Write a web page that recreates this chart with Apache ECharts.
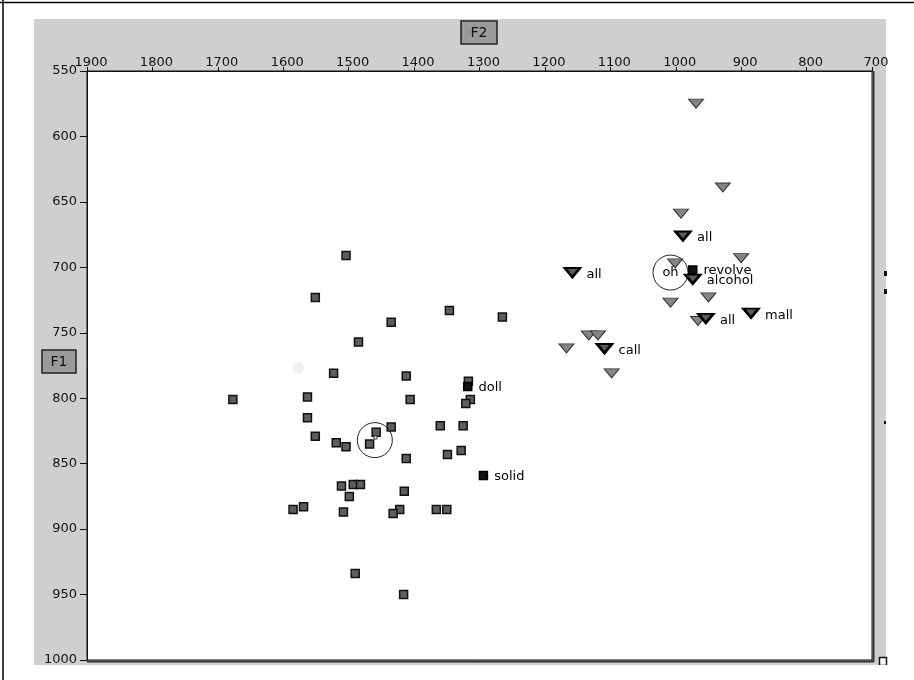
<!DOCTYPE html>
<html>
<head>
<meta charset="utf-8">
<script src="https://cdn.jsdelivr.net/npm/echarts@6/dist/echarts.min.js"></script>
<style>
  html, body { margin: 0; padding: 0; background: #fff; }
  #chart { width: 914px; height: 680px; }
</style>
</head>
<body>
<div id="chart"></div>
<script>
// F2 / F1 values (Hz)
const squareF2 = [1504, 1551, 1346, 1265, 1435, 1485, 1523, 1412, 1677, 1563, 1406, 1317, 1314, 1321,
  1563, 1551, 1435, 1458, 1468, 1519, 1504, 1360, 1325, 1412, 1349, 1328, 1511, 1493, 1482, 1415,
  1499, 1585, 1569, 1508, 1422, 1432, 1366, 1350, 1490, 1416];
const squareF1 = [691, 723, 733, 738, 742, 757, 781, 783, 801, 799, 801, 787, 801, 804,
  815, 829, 822, 826, 835, 834, 837, 821, 821, 846, 843, 840, 867, 866, 866, 871,
  875, 885, 883, 887, 885, 888, 885, 885, 934, 950];

const triangleF2 = [969, 928, 992, 1001, 900, 1008, 950, 966, 1133, 1119, 1167, 1098];
const triangleF1 = [575, 639, 659, 697, 693, 727, 723, 741, 752, 752, 762, 781];

const wordSquareF2 = [1318, 1294, 974];
const wordSquareF1 = [791, 859, 702];
const wordSquareText = ["doll", "solid", "revolve"];

const wordTriF2 = [989, 1158, 974, 954, 885, 1109];
const wordTriF1 = [676, 704, 709, 739, 735, 762];
const wordTriText = ["all", "all", "alcohol", "all", "mall", "call"];

const ringF2 = [1460, 1008];
const ringF1 = [832, 704];
const ringText = ["", "oh"];

const font = "DejaVu Sans";
const ink = "#111";
const triPath = "path://M0,0L30,0L15,18Z";

let chart = echarts.init(document.getElementById("chart"));

let pairs = (xs, ys) => xs.map((x, i) => [x, ys[i]]);

let option = {
  animation: false,
  backgroundColor: "#fff",
  grid: {
    left: 87, top: 71, right: 42, bottom: 20,
    show: true, backgroundColor: "#fff", borderColor: ink, borderWidth: 1
  },
  xAxis: {
    type: "value", position: "top", inverse: true,
    min: 700, max: 1900, interval: 100,
    axisLine: { lineStyle: { color: ink, width: 1 } },
    axisTick: { show: true, inside: false, length: 4, lineStyle: { color: ink } },
    axisLabel: {
      color: ink, fontFamily: font, fontSize: 13, margin: 2, padding: [0, 0, 0, 8],
      formatter: (v) => String(v)
    },
    splitLine: { show: false }
  },
  yAxis: {
    type: "value", inverse: true,
    min: 550, max: 1000, interval: 50,
    axisLine: { lineStyle: { color: ink, width: 1 } },
    axisTick: { show: true, inside: false, length: 7, lineStyle: { color: ink } },
    axisLabel: {
      color: ink, fontFamily: font, fontSize: 13, margin: 10,
      formatter: (v) => String(v)
    },
    splitLine: { show: false }
  },
  graphic: [
    { type: "rect", z: -10, shape: { x: 34, y: 19, width: 852, height: 646 }, style: { fill: "#cfcfcf" } },
    { type: "line", z: 100, shape: { x1: 0, y1: 2.5, x2: 914, y2: 2.5 }, style: { stroke: "#000", lineWidth: 1.5 } },
    { type: "line", z: 100, shape: { x1: 3, y1: 0, x2: 3, y2: 680 }, style: { stroke: "#000", lineWidth: 1.5 } },
    { type: "line", z: 50, shape: { x1: 873.5, y1: 71, x2: 873.5, y2: 662 }, style: { stroke: "#333", lineWidth: 2 } },
    { type: "line", z: 50, shape: { x1: 87, y1: 661.5, x2: 874, y2: 661.5 }, style: { stroke: "#333", lineWidth: 2 } },
    { type: "rect", z: 60, shape: { x: 461, y: 21, width: 36, height: 23 }, style: { fill: "#9a9a9a", stroke: "#222", lineWidth: 1.5 } },
    { type: "text", z: 61, x: 479, y: 33, style: { text: "F2", font: "14px " + font, fill: "#111", align: "center", verticalAlign: "middle" } },
    { type: "rect", z: 60, shape: { x: 42, y: 350, width: 34, height: 23 }, style: { fill: "#9a9a9a", stroke: "#222", lineWidth: 1.5 } },
    { type: "text", z: 61, x: 59, y: 362, style: { text: "F1", font: "14px " + font, fill: "#111", align: "center", verticalAlign: "middle" } },
    { type: "rect", z: 60, shape: { x: 884, y: 271, width: 3, height: 5 }, style: { fill: "#111" } },
    { type: "rect", z: 60, shape: { x: 884, y: 289, width: 3, height: 5 }, style: { fill: "#111" } },
    { type: "rect", z: 60, shape: { x: 884, y: 421, width: 2, height: 3 }, style: { fill: "#111" } },
    { type: "rect", z: 60, shape: { x: 879.5, y: 657.5, width: 7, height: 8 }, style: { fill: "#fff", stroke: "#111", lineWidth: 1.5 } },
    { type: "rect", z: 90, shape: { x: 34, y: 665, width: 880, height: 15 }, style: { fill: "#fff" } }
  ],
  series: [
    {
      // faint smudge left of the cluster
      type: "scatter", symbol: "circle", symbolSize: 12, silent: true,
      itemStyle: { color: "#f0f0f0", opacity: 1 },
      data: [[1577, 777]]
    },
    {
      type: "scatter", symbol: "rect", symbolSize: 8,
      itemStyle: { color: "#5e5e5e", borderColor: "#111", borderWidth: 1.5, opacity: 1 },
      data: pairs(squareF2, squareF1)
    },
    {
      type: "scatter", symbol: triPath, symbolSize: [15, 9],
      itemStyle: { color: "#858585", borderColor: "#333", borderWidth: 1, opacity: 1 },
      data: pairs(triangleF2, triangleF1)
    },
    {
      type: "scatter", symbol: "rect", symbolSize: 3, z: 3,
      itemStyle: { color: "#fff", borderColor: "#333", borderWidth: 1, opacity: 1 },
      data: [[1459, 830]]
    },
    {
      type: "scatter", symbol: "rect", symbolSize: 8, z: 4,
      itemStyle: { color: "#111", borderColor: "#000", borderWidth: 1.5, opacity: 1 },
      label: {
        show: true, position: "right", distance: 6, color: "#000",
        fontFamily: font, fontSize: 13, offset: [0, 1],
        formatter: (p) => wordSquareText[p.dataIndex]
      },
      data: pairs(wordSquareF2, wordSquareF1)
    },
    {
      type: "scatter", symbol: triPath, symbolSize: [15, 9], z: 5,
      itemStyle: { color: "#5a5a5a", borderColor: "#000", borderWidth: 2.5, opacity: 1 },
      label: {
        show: true, position: "right", distance: 5, color: "#000",
        fontFamily: font, fontSize: 13, offset: [0, 2],
        formatter: (p) => wordTriText[p.dataIndex]
      },
      data: pairs(wordTriF2, wordTriF1)
    },
    {
      type: "scatter", symbol: "circle", symbolSize: 35, z: 6,
      itemStyle: { color: "rgba(0,0,0,0)", borderColor: "#222", borderWidth: 1, opacity: 1 },
      label: {
        show: true, position: "inside", color: "#000",
        fontFamily: font, fontSize: 13,
        formatter: (p) => ringText[p.dataIndex]
      },
      data: pairs(ringF2, ringF1)
    }
  ]
};

chart.setOption(option);
</script>
</body>
</html>
